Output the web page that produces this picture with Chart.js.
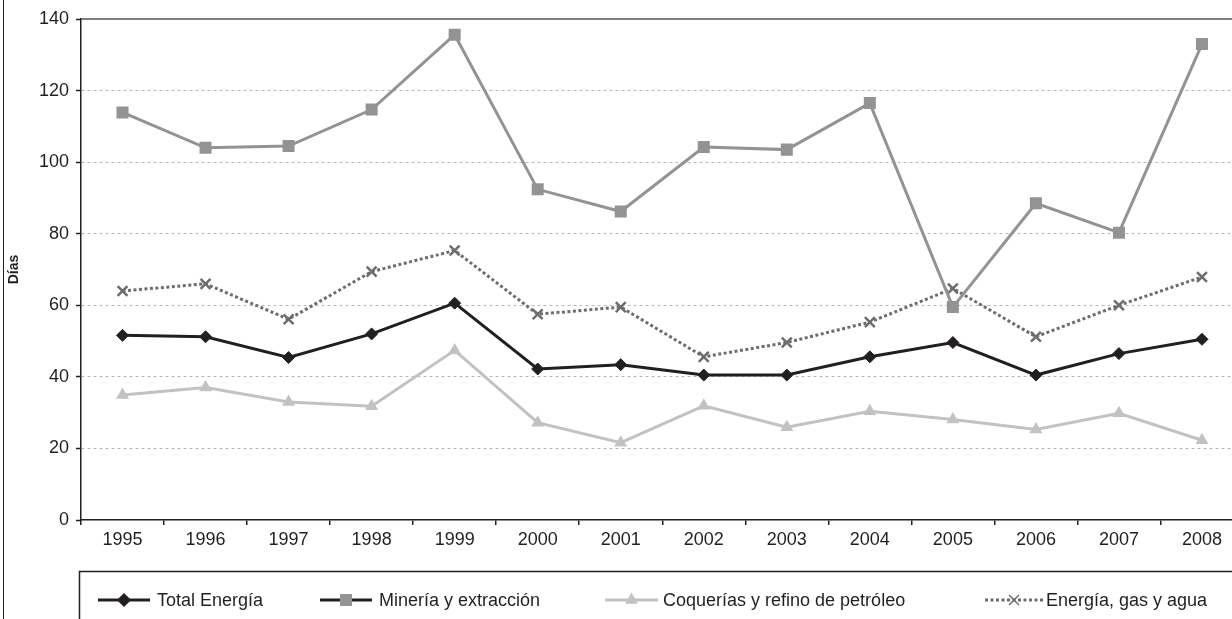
<!DOCTYPE html>
<html lang="es">

<head>
    <meta charset="UTF-8">
    <title>Días</title>
    <script src="https://cdn.jsdelivr.net/npm/chart.js"></script>
    <style>
        html, body { margin: 0; padding: 0; background: #fff; overflow: hidden; }
        #wrap { position: relative; width: 1232px; height: 619px; overflow: hidden; }
        #frame { position: absolute; left: 3px; top: 0; width: 0; height: 619px; border-left: 1.5px solid #231f20; }
        canvas { position: absolute; left: 0; top: 0; }
    </style>
</head>

<body>
    <div id="wrap">
        <canvas id="chartDias" width="1253" height="619"></canvas>
        <div id="frame"></div>
    </div>

    <script>
        const years = ['1995', '1996', '1997', '1998', '1999', '2000', '2001', '2002', '2003', '2004', '2005', '2006', '2007', '2008'];
        const totalEnergia = [51.6, 51.2, 45.4, 52.0, 60.6, 42.2, 43.4, 40.5, 40.5, 45.6, 49.6, 40.5, 46.5, 50.5];
        const mineria = [113.9, 104.0, 104.5, 114.7, 135.6, 92.4, 86.2, 104.2, 103.5, 116.5, 59.5, 88.5, 80.3, 133.0];
        const coquerias = [34.9, 37.0, 33.0, 31.8, 47.4, 27.2, 21.6, 31.9, 25.9, 30.4, 28.1, 25.3, 29.8, 22.3];
        const energiaGasAgua = [64.0, 66.0, 56.1, 69.4, 75.3, 57.5, 59.5, 45.6, 49.6, 55.3, 64.7, 51.2, 60.0, 67.9];
        const yTicks = [0, 20, 40, 60, 80, 100, 120, 140];

        const FONT = '"Liberation Sans", Arial, Helvetica, sans-serif';
        const INK = '#231f20';

        // legend drawn by hand: line start, line end, text x (plus line colour shown in the original key)
        const legendItems = [
            { x0: 98, x1: 150, tx: 157, line: INK },
            { x0: 320, x1: 372, tx: 379, line: INK },
            { x0: 605, x1: 658, tx: 663, line: '#c2c2c2' },
            { x0: 985, x1: 1043, tx: 1046, line: '#6d6d6d' }
        ];

        const boxLegend = {
            id: 'boxLegend',
            afterDraw(chart) {
                const ctx = chart.ctx;
                const yTop = chart.scales.y;
                ctx.save();
                // top frame of the plot
                ctx.strokeStyle = '#555';
                ctx.lineWidth = 1.5;
                ctx.setLineDash([]);
                ctx.beginPath();
                ctx.moveTo(chart.chartArea.left, yTop.getPixelForValue(140));
                ctx.lineTo(chart.chartArea.right, yTop.getPixelForValue(140));
                ctx.stroke();

                // legend box
                ctx.strokeStyle = INK;
                ctx.strokeRect(79.5, 571.5, 1300, 100);

                const cy = 600;
                chart.data.datasets.forEach((ds, i) => {
                    const it = legendItems[i];
                    ctx.save();
                    ctx.strokeStyle = it.line;
                    ctx.lineWidth = ds.borderWidth;
                    ctx.setLineDash(ds.borderDash || []);
                    ctx.beginPath();
                    ctx.moveTo(it.x0, cy);
                    ctx.lineTo(it.x1, cy);
                    ctx.stroke();
                    ctx.restore();

                    ctx.save();
                    ctx.fillStyle = ds.pointBackgroundColor;
                    ctx.strokeStyle = ds.pointBorderColor;
                    ctx.setLineDash([]);
                    Chart.helpers.drawPoint(ctx, {
                        pointStyle: ds.pointStyle,
                        radius: ds.pointRadius,
                        rotation: 0,
                        borderWidth: ds.pointBorderWidth
                    }, (it.x0 + it.x1) / 2, cy);
                    ctx.restore();

                    ctx.fillStyle = INK;
                    ctx.font = '18px ' + FONT;
                    ctx.textBaseline = 'middle';
                    ctx.textAlign = 'left';
                    ctx.fillText(ds.label, it.tx, cy + 1);
                });
                ctx.restore();
            }
        };

        new Chart(document.getElementById('chartDias').getContext('2d'), {
            type: 'line',
            data: {
                labels: years,
                datasets: [{
                    label: 'Total Energía',
                    data: totalEnergia,
                    borderColor: INK,
                    borderWidth: 3,
                    pointStyle: 'rectRot',
                    pointRadius: 6,
                    pointBackgroundColor: INK,
                    pointBorderColor: INK,
                    pointBorderWidth: 1
                }, {
                    label: 'Minería y extracción',
                    data: mineria,
                    borderColor: '#939393',
                    borderWidth: 3,
                    pointStyle: 'rect',
                    pointRadius: 8.5,
                    pointBackgroundColor: '#939393',
                    pointBorderColor: '#939393',
                    pointBorderWidth: 0
                }, {
                    label: 'Coquerías y refino de petróleo',
                    data: coquerias,
                    borderColor: '#c2c2c2',
                    borderWidth: 3,
                    pointStyle: 'triangle',
                    pointRadius: 7.5,
                    pointBackgroundColor: '#c2c2c2',
                    pointBorderColor: '#c2c2c2',
                    pointBorderWidth: 0
                }, {
                    label: 'Energía, gas y agua',
                    data: energiaGasAgua,
                    borderColor: '#6d6d6d',
                    borderWidth: 3,
                    borderDash: [3, 2.5],
                    pointStyle: 'crossRot',
                    pointRadius: 7,
                    pointBackgroundColor: '#6d6d6d',
                    pointBorderColor: '#6d6d6d',
                    pointBorderWidth: 2.5
                }]
            },
            options: {
                responsive: false,
                animation: false,
                layout: { padding: { top: 19, right: 1, bottom: 69, left: 0 } },
                plugins: {
                    legend: { display: false },
                    tooltip: { enabled: false }
                },
                elements: { line: { tension: 0 } },
                scales: {
                    x: {
                        offset: true,
                        afterFit(s) { s.height = 30; },
                        grid: {
                            offset: true,
                            drawOnChartArea: false,
                            drawTicks: true,
                            tickLength: 5,
                            color: INK,
                            lineWidth: 1.5
                        },
                        border: { color: INK, width: 1.5 },
                        ticks: { color: INK, font: { size: 18, family: FONT }, padding: 4, maxRotation: 0 }
                    },
                    y: {
                        min: 0,
                        max: 140,
                        afterFit(s) { s.width = 81; },
                        afterBuildTicks(s) { s.ticks = yTicks.map(v => ({ value: v })); },
                        grid: {
                            color: ctx => (ctx.tick && (ctx.tick.value === 140 || ctx.tick.value === 0)) ? 'rgba(0,0,0,0)' : '#b8b8b8',
                            lineWidth: 1,
                            tickLength: 5,
                            tickColor: INK,
                            tickBorderDash: [],
                            tickWidth: 1.5
                        },
                        border: { color: INK, width: 1.5, dash: [3, 3] },
                        ticks: { color: INK, font: { size: 18, family: FONT }, padding: 7 },
                        title: {
                            display: true,
                            text: 'Días',
                            color: INK,
                            font: { size: 14, weight: 'bold', family: FONT },
                            padding: { top: 6, bottom: 0 }
                        }
                    }
                }
            },
            plugins: [boxLegend]
        });
    </script>

</body>

</html>
